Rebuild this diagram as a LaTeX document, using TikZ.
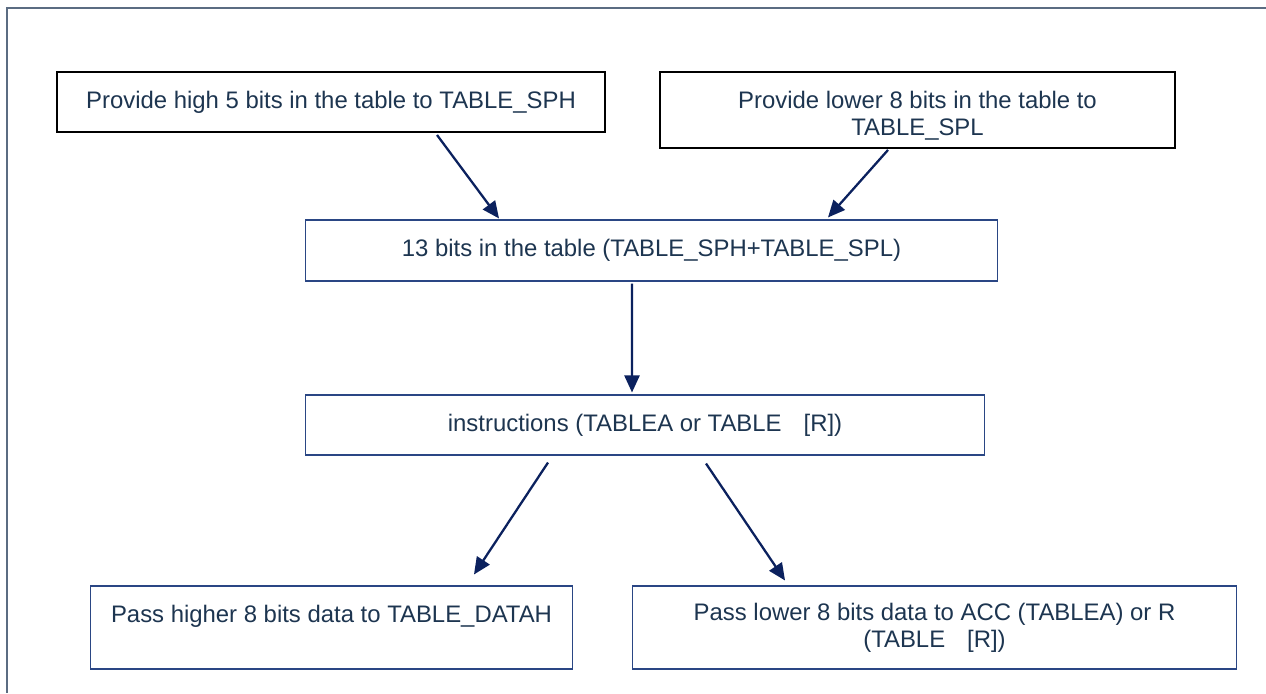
\documentclass[tikz,border=0pt]{standalone}
\usepackage{fontspec}
\setmainfont{Liberation Sans}
\usetikzlibrary{arrows.meta}
\definecolor{txtblue}{HTML}{1D3550}
\definecolor{arrblue}{HTML}{0B215E}
\definecolor{boxblue}{HTML}{2A4684}
\definecolor{framegray}{HTML}{5B6C82}
\tikzset{
  stepbox/.style={draw=boxblue,line width=.6pt,align=center,text=txtblue,
    font=\fontsize{13.6}{15.3}\selectfont,inner sep=0pt},
  srcbox/.style={stepbox,draw=black,line width=1.1pt},
  arr/.style={->,draw=arrblue,line width=1.3pt}
}
\begin{document}
\begin{tikzpicture}[x=0.02cm,y=-0.02cm,>={Triangle[length=0.34cm,width=0.3cm]}]
\useasboundingbox (0,0) rectangle (1266,693);
\draw[framegray,line width=.8pt] (1266,8) -- (7,8) -- (7,693);
\node[srcbox,minimum width=10.96cm,minimum height=1.2cm] (high) at (331,102) {Provide high 5 bits in the table to TABLE\_SPH};
\node[srcbox,minimum width=10.3cm,minimum height=1.52cm] (low) at (917.5,110) {\rule{0pt}{16.8pt}Provide lower 8 bits in the table to\\TABLE\_SPL};
\node[stepbox,minimum width=13.86cm,minimum height=1.22cm] (sum) at (651.5,250.5) {13 bits in the table (TABLE\_SPH+TABLE\_SPL)};
\node[stepbox,minimum width=13.6cm,minimum height=1.2cm] (instr) at (645,425) {instructions (TABLEA or TABLE\hspace{0.44cm}[R])};
\node[stepbox,minimum width=9.66cm,minimum height=1.66cm] (datah) at (331.5,627.5) {Pass higher 8 bits data to TABLE\_DATAH\\\mbox{}};
\node[stepbox,minimum width=12.1cm,minimum height=1.66cm] (acc) at (934.5,627.5) {Pass lower 8 bits data to ACC (TABLEA) or R\\(TABLE\hspace{0.44cm}[R])};
% connectors
\draw[arr] ([xshift=2.12cm,yshift=-0.04cm]high.south) -- ([xshift=-3.05cm,yshift=0.02cm]sum.north);
\draw[arr] ([xshift=-0.59cm,yshift=-0.02cm]low.south) -- ([xshift=3.53cm,yshift=0.04cm]sum.north);
\draw[arr] ([xshift=-0.39cm,yshift=-0.04cm]sum.south) -- ([xshift=-0.26cm,yshift=0.04cm]instr.north);
\draw[arr] ([xshift=-1.94cm,yshift=-0.14cm]instr.south) -- ([xshift=2.85cm,yshift=0.22cm]datah.north);
\draw[arr] ([xshift=1.22cm,yshift=-0.16cm]instr.south) -- ([xshift=-2.99cm,yshift=0.1cm]acc.north);
\end{tikzpicture}
\end{document}
